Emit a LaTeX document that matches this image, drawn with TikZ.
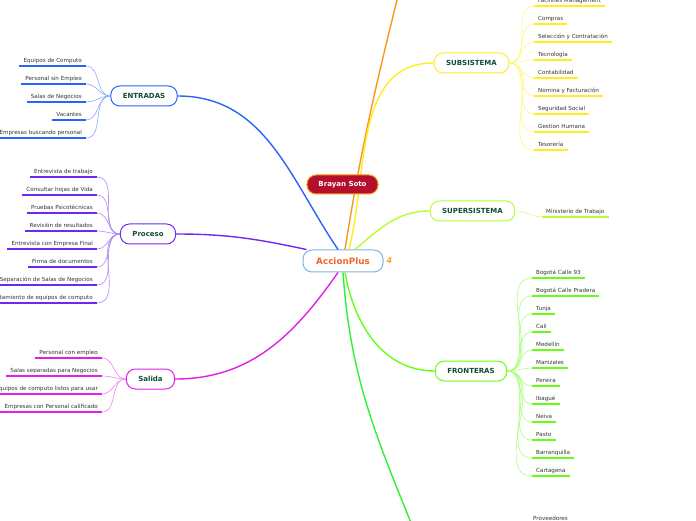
\documentclass[tikz,border=0pt]{standalone}
\usepackage{fontspec}
\setmainfont{DejaVu Sans}
\usepackage{tikz}
\usetikzlibrary{positioning}
\usepackage{xcolor}
\definecolor{entblue}{RGB}{40,100,250}
\definecolor{propurple}{RGB}{110,40,240}
\definecolor{salmagenta}{RGB}{225,30,235}
\definecolor{toporange}{RGB}{250,150,30}
\definecolor{subyellow}{RGB}{255,238,30}
\definecolor{suplime}{RGB}{180,255,50}
\definecolor{frogreen}{RGB}{100,255,20}
\definecolor{botgreen}{RGB}{50,240,50}
\definecolor{topicgreen}{RGB}{15,76,58}
\definecolor{leafgray}{RGB}{51,51,51}
\definecolor{accblue}{RGB}{123,180,230}
\definecolor{accorange}{RGB}{240,100,45}
\definecolor{iconorange}{RGB}{245,160,42}
\definecolor{brayred}{RGB}{179,16,46}

\begin{document}
\begin{tikzpicture}[
    x=1pt, y=1pt,
    topic/.style={draw, rounded corners=9pt, line width=1pt, fill=white,
        minimum height=20pt, inner xsep=12pt,
        font=\fontsize{7}{8}\selectfont\bfseries, text=topicgreen},
    leaf/.style={font=\fontsize{5.6}{6}\selectfont, text=leafgray,
        inner xsep=4pt, inner ysep=2.4pt, text height=4.2pt, text depth=1.2pt,
        append after command={(\tikzlastnode.south west)
            edge[draw=#1, line width=1.4pt] (\tikzlastnode.south east)}},
    branch/.style={draw=#1, line width=1.4pt},
    twig/.style={draw=#1!55, line width=0.6pt},
]
\useasboundingbox (0,0) rectangle (696,520);

% ===== CENTRE =====
\node[draw=accblue, line width=1pt, rounded corners=9pt, fill=white,
    minimum width=80pt, minimum height=22pt,
    font=\fontsize{8.8}{10}\selectfont\bfseries, text=accorange] (acc) at (343,259) {AccionPlus};
\node[right=2pt of acc, font=\fontsize{8}{9}\selectfont\bfseries\itshape,
    text=iconorange, inner sep=1pt] (icon) {4};

% ===== MAIN TOPICS =====
\node[topic, draw=entblue]    (ent) at (144,424)   {ENTRADAS};
\node[topic, draw=propurple]  (pro) at (148,286)   {Proceso};
\node[topic, draw=salmagenta] (sal) at (150.5,141) {Salida};
\node[topic, draw=subyellow]  (sub) at (471.5,457) {SUBSISTEMA};
\node[topic, draw=suplime]    (sup) at (472.5,309) {SUPERSISTEMA};
\node[topic, draw=frogreen]   (fro) at (471,149)   {FRONTERAS};

\coordinate (topend) at (404,548);
\coordinate (botend) at (418,-20);

\draw[branch=entblue]    ([xshift=-5pt]acc.north) to[out=124, in=0] (ent.east);
\draw[branch=propurple]  ([xshift=4pt]acc.north west) to[out=168, in=0] (pro.east);
\draw[branch=salmagenta] ([xshift=-5pt]acc.south) to[out=235, in=0] (sal.east);
\draw[branch=toporange]  ([xshift=2pt]acc.north) to[out=81, in=256] (topend);
\draw[branch=subyellow]  ([xshift=6pt]acc.north) to[out=76, in=180] (sub.west);
\draw[branch=suplime]    ([xshift=12pt]acc.north) to[out=40, in=180] (sup.west);
\draw[branch=frogreen]   ([xshift=2pt]acc.south) to[out=-80, in=180] (fro.west);
\draw[branch=botgreen]   (acc.south) to[out=-86, in=112] (botend);

% floating topic
\node[draw=toporange, line width=1pt, rounded corners=9pt, fill=brayred,
    minimum height=19pt, inner xsep=11.5pt,
    font=\fontsize{7}{8}\selectfont\bfseries, text=white] (bra) at (342.5,335.5) {Brayan Soto};

% ===== ENTRADAS =====
\node[leaf=entblue, anchor=south east] (e1) at (86,454) {Equipos de Computo};
\node[leaf=entblue, anchor=south east] (e2) at (86,436) {Personal sin Empleo};
\node[leaf=entblue, anchor=south east] (e3) at (86,418) {Salas de Negocios};
\node[leaf=entblue, anchor=south east] (e4) at (86,400) {Vacantes};
\node[leaf=entblue, anchor=south east] (e5) at (86,382) {Empresas buscando personal};

\draw[twig=entblue] (ent.west) to[out=180, in=0] (e1.south east);
\draw[twig=entblue] (ent.west) to[out=180, in=0] (e2.south east);
\draw[twig=entblue] (ent.west) to[out=180, in=0] (e3.south east);
\draw[twig=entblue] (ent.west) to[out=180, in=0] (e4.south east);
\draw[twig=entblue] (ent.west) to[out=180, in=0] (e5.south east);

% ===== PROCESO =====
\node[leaf=propurple, anchor=south east] (p1) at (97,343) {Entrevista de trabajo};
\node[leaf=propurple, anchor=south east] (p2) at (97,325) {Consultar hojas de Vida};
\node[leaf=propurple, anchor=south east] (p3) at (97,307) {Pruebas Psicotécnicas};
\node[leaf=propurple, anchor=south east] (p4) at (97,289) {Revisión de resultados};
\node[leaf=propurple, anchor=south east] (p5) at (97,271) {Entrevista con Empresa Final};
\node[leaf=propurple, anchor=south east] (p6) at (97,253) {Firma de documentos};
\node[leaf=propurple, anchor=south east] (p7) at (97,235) {Separación de Salas de Negocios};
\node[leaf=propurple, anchor=south east] (p8) at (97,217) {Alistamiento de equipos de computo};

\draw[twig=propurple] (pro.west) to[out=180, in=0] (p1.south east);
\draw[twig=propurple] (pro.west) to[out=180, in=0] (p2.south east);
\draw[twig=propurple] (pro.west) to[out=180, in=0] (p3.south east);
\draw[twig=propurple] (pro.west) to[out=180, in=0] (p4.south east);
\draw[twig=propurple] (pro.west) to[out=180, in=0] (p5.south east);
\draw[twig=propurple] (pro.west) to[out=180, in=0] (p6.south east);
\draw[twig=propurple] (pro.west) to[out=180, in=0] (p7.south east);
\draw[twig=propurple] (pro.west) to[out=180, in=0] (p8.south east);

% ===== SALIDA =====
\node[leaf=salmagenta, anchor=south east] (s1) at (102,162) {Personal con empleo};
\node[leaf=salmagenta, anchor=south east] (s2) at (102,144) {Salas separadas para Negocios};
\node[leaf=salmagenta, anchor=south east] (s3) at (102,126) {Equipos de computo listos para usar};
\node[leaf=salmagenta, anchor=south east] (s4) at (102,108) {Empresas con Personal calificado};

\draw[twig=salmagenta] (sal.west) to[out=180, in=0] (s1.south east);
\draw[twig=salmagenta] (sal.west) to[out=180, in=0] (s2.south east);
\draw[twig=salmagenta] (sal.west) to[out=180, in=0] (s3.south east);
\draw[twig=salmagenta] (sal.west) to[out=180, in=0] (s4.south east);

% ===== SUBSISTEMA =====
\node[leaf=subyellow, anchor=south west] (u1) at (534,514) {Facilities Management};
\node[leaf=subyellow, anchor=south west] (u2) at (534,496) {Compras};
\node[leaf=subyellow, anchor=south west] (u3) at (534,478) {Selección y Contratación};
\node[leaf=subyellow, anchor=south west] (u4) at (534,460) {Tecnología};
\node[leaf=subyellow, anchor=south west] (u5) at (534,442) {Contabilidad};
\node[leaf=subyellow, anchor=south west] (u6) at (534,424) {Nomina y Facturación};
\node[leaf=subyellow, anchor=south west] (u7) at (534,406) {Seguridad Social};
\node[leaf=subyellow, anchor=south west] (u8) at (534,388) {Gestion Humana};
\node[leaf=subyellow, anchor=south west] (u9) at (534,370) {Tesorería};

\draw[twig=subyellow] (sub.east) to[out=0, in=180] (u1.south west);
\draw[twig=subyellow] (sub.east) to[out=0, in=180] (u2.south west);
\draw[twig=subyellow] (sub.east) to[out=0, in=180] (u3.south west);
\draw[twig=subyellow] (sub.east) to[out=0, in=180] (u4.south west);
\draw[twig=subyellow] (sub.east) to[out=0, in=180] (u5.south west);
\draw[twig=subyellow] (sub.east) to[out=0, in=180] (u6.south west);
\draw[twig=subyellow] (sub.east) to[out=0, in=180] (u7.south west);
\draw[twig=subyellow] (sub.east) to[out=0, in=180] (u8.south west);
\draw[twig=subyellow] (sub.east) to[out=0, in=180] (u9.south west);

% ===== SUPERSISTEMA =====
\node[leaf=suplime, anchor=south west] (m1) at (542,303) {Ministerio de Trabajo};
\draw[twig=suplime] (sup.east) to[out=0, in=180] (m1.south west);

% ===== FRONTERAS =====
\node[leaf=frogreen, anchor=south west] (f1)  at (532,242) {Bogotá Calle 93};
\node[leaf=frogreen, anchor=south west] (f2)  at (532,224) {Bogotá Calle Pradera};
\node[leaf=frogreen, anchor=south west] (f3)  at (532,206) {Tunja};
\node[leaf=frogreen, anchor=south west] (f4)  at (532,188) {Cali};
\node[leaf=frogreen, anchor=south west] (f5)  at (532,170) {Medellín};
\node[leaf=frogreen, anchor=south west] (f6)  at (532,152) {Manizales};
\node[leaf=frogreen, anchor=south west] (f7)  at (532,134) {Pereira};
\node[leaf=frogreen, anchor=south west] (f8)  at (532,116) {Ibagué};
\node[leaf=frogreen, anchor=south west] (f9)  at (532,98)  {Neiva};
\node[leaf=frogreen, anchor=south west] (f10) at (532,80)  {Pasto};
\node[leaf=frogreen, anchor=south west] (f11) at (532,62)  {Barranquilla};
\node[leaf=frogreen, anchor=south west] (f12) at (532,44)  {Cartagena};

\draw[twig=frogreen] (fro.east) to[out=0, in=180] (f1.south west);
\draw[twig=frogreen] (fro.east) to[out=0, in=180] (f2.south west);
\draw[twig=frogreen] (fro.east) to[out=0, in=180] (f3.south west);
\draw[twig=frogreen] (fro.east) to[out=0, in=180] (f4.south west);
\draw[twig=frogreen] (fro.east) to[out=0, in=180] (f5.south west);
\draw[twig=frogreen] (fro.east) to[out=0, in=180] (f6.south west);
\draw[twig=frogreen] (fro.east) to[out=0, in=180] (f7.south west);
\draw[twig=frogreen] (fro.east) to[out=0, in=180] (f8.south west);
\draw[twig=frogreen] (fro.east) to[out=0, in=180] (f9.south west);
\draw[twig=frogreen] (fro.east) to[out=0, in=180] (f10.south west);
\draw[twig=frogreen] (fro.east) to[out=0, in=180] (f11.south west);
\draw[twig=frogreen] (fro.east) to[out=0, in=180] (f12.south west);

% bottom branch, cut off by the page
\node[leaf=botgreen, anchor=south west] (prov) at (529,-4) {Proveedores};

\end{tikzpicture}
\end{document}
